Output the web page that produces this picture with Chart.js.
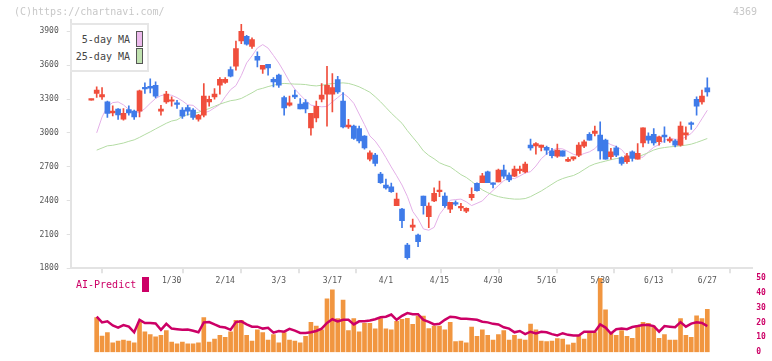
<!DOCTYPE html>
<html><head><meta charset="utf-8">
<script src="https://cdn.jsdelivr.net/npm/chart.js@4.4.1/dist/chart.umd.min.js"></script>
<style>
html,body{margin:0;padding:0;background:#fff;}
#wrap{position:relative;width:772px;height:361px;overflow:hidden;font-family:'DejaVu Sans Mono',monospace;}
canvas{position:absolute;left:0;top:0;width:772px;height:361px;}
.t{position:absolute;white-space:pre;font-size:10px;line-height:12px;}
</style></head><body>
<div id="wrap">
<canvas id="vol" width="772" height="361"></canvas>
<canvas id="price" width="772" height="361"></canvas>
<div class="t" style="left:14px;top:6px;color:#c8c8c8">(C)https://chartnavi.com/</div>
<div class="t" style="left:733px;top:6px;color:#c8c8c8">4369</div>
<div style="position:absolute;left:70px;top:23px;width:79px;height:49px;box-sizing:border-box;border:2px solid #e6e6e6;background:#fff"></div>
<div class="t" style="right:642px;top:34px;color:#444">5-day MA</div>
<div style="position:absolute;left:136px;top:31px;width:7px;height:16px;box-sizing:border-box;border:1px solid #555;background:#ecbaec"></div>
<div class="t" style="right:642px;top:51px;color:#444">25-day MA</div>
<div style="position:absolute;left:136px;top:48px;width:7px;height:16px;box-sizing:border-box;border:1px solid #555;background:#c0e2b0"></div>
<div class="t" style="left:76px;top:279px;color:#cc0066">AI-Predict</div>
<div style="position:absolute;left:142px;top:277px;width:7px;height:15px;background:#cc0066"></div>
</div>
<script>
const dates = ['1/8','1/9','1/10','1/14','1/15','1/16','1/17','1/20','1/21','1/22','1/23','1/24','1/27','1/28','1/29','1/30','1/31',
'2/3','2/4','2/5','2/6','2/7','2/10','2/12','2/13','2/14','2/17','2/18','2/19','2/20','2/21','2/25','2/26','2/27','2/28',
'3/3','3/4','3/5','3/6','3/7','3/10','3/11','3/12','3/13','3/14','3/17','3/18','3/19','3/21','3/24','3/25','3/26','3/27','3/28','3/31',
'4/1','4/2','4/3','4/4','4/7','4/8','4/9','4/10','4/11','4/14','4/15','4/16','4/17','4/18','4/21','4/22','4/23','4/24','4/25','4/28','4/30',
'5/1','5/2','5/7','5/8','5/9','5/12','5/13','5/14','5/15','5/16','5/19','5/20','5/21','5/22','5/23','5/26','5/27','5/28','5/29','5/30',
'6/2','6/3','6/4','6/5','6/6','6/9','6/10','6/11','6/12','6/13','6/16','6/17','6/18','6/19','6/20','6/23','6/24','6/25','6/26','6/27'];
const tickDates = ['1/30','2/14','3/3','3/17','4/1','4/15','4/30','5/16','5/30','6/13','6/27'];
const priceTicks = [1800,2100,2400,2700,3000,3300,3600,3900];
const volTicks = [0,10,20,30,40,50];

const open = [3290,3349,3319,3274,3177,3210,3121,3207,3192,3192,3402,3413,3422,3192,3274,3280,3256,3201,3225,3201,
3121,3157,3274,3319,3422,3446,3561,3590,3814,3856,3767,3679,3564,3608,3475,3511,3313,3245,3334,3254,
3269,3044,3133,3298,3343,3343,3473,3281,3053,3059,3039,2971,2767,2803,2635,2537,2522,2354,2324,2006,
2165,2094,2440,2257,2398,2478,2440,2325,2381,2336,2307,2425,2552,2558,2655,2558,2566,2670,2626,2617,
2664,2655,2891,2885,2871,2871,2841,2794,2841,2750,2770,2803,2882,2988,2995,2980,2935,2788,2868,2782,
2744,2832,2767,2912,2971,2988,2921,2980,2929,2929,2891,2982,3089,3298,3274,3399];
const high = [3290,3407,3402,3281,3239,3216,3216,3239,3201,3378,3443,3478,3452,3243,3369,3319,3289,3225,3245,3216,
3165,3437,3325,3392,3490,3490,3584,3814,3962,3865,3842,3717,3599,3608,3490,3520,3325,3325,3378,3304,
3296,3172,3281,3437,3590,3525,3502,3358,3121,3068,3059,2975,2841,2818,2650,2590,2555,2466,2331,2021,
2236,2103,2440,2381,2513,2573,2469,2384,2398,2375,2335,2513,2558,2641,2661,2558,2679,2714,2646,2705,
2705,2741,2944,2915,2891,2882,2862,2900,2841,2782,2788,2915,2935,3003,3059,3097,2944,2862,2882,2788,
2818,2841,2906,3044,3000,3039,2971,3053,2962,2941,3097,3053,3097,3319,3378,3487];
const low = [3290,3313,3296,3136,3151,3119,3112,3157,3119,3142,3349,3354,3310,3157,3260,3236,3216,3128,3157,3119,
3104,3142,3236,3298,3343,3437,3496,3555,3791,3776,3749,3584,3526,3511,3407,3402,3157,3236,3304,3213,
3177,2980,3097,3274,3060,3186,3349,3044,3039,2942,2912,2856,2752,2708,2552,2502,2473,2354,2159,1882,
2133,1991,2280,2159,2390,2434,2340,2292,2354,2310,2292,2404,2484,2558,2558,2513,2566,2597,2567,2611,
2641,2646,2847,2811,2841,2809,2779,2782,2794,2744,2755,2788,2868,2935,2973,2767,2767,2767,2788,2714,
2729,2750,2767,2876,2906,2891,2891,2915,2915,2876,2882,2941,3030,3157,3254,3325];
const close = [3290,3378,3340,3172,3192,3159,3172,3177,3142,3372,3390,3396,3325,3210,3343,3285,3252,3148,3192,3136,
3157,3325,3298,3343,3475,3475,3502,3747,3900,3785,3826,3644,3599,3576,3452,3422,3221,3266,3319,3213,
3213,3172,3236,3334,3422,3402,3363,3053,3068,2950,2929,2867,2823,2729,2558,2513,2478,2413,2221,1894,
2183,2035,2354,2351,2464,2493,2354,2384,2369,2343,2331,2455,2487,2620,2558,2543,2670,2617,2582,2679,
2679,2723,2867,2906,2891,2847,2797,2847,2794,2765,2788,2891,2921,2935,3015,2841,2767,2832,2803,2729,
2797,2773,2818,3044,2935,2912,2965,2965,2944,2891,3059,3000,3074,3236,3325,3363];
const ma5 = [null,3000,3140,3235,3268,3274,3248,3207,3178,3180,3215,3262,3305,3330,3340,3333,3312,3283,3248,3244,
3203,3177,3192,3222,3252,3320,3383,3419,3508,3620,3682,3752,3782,3751,3686,3619,3539,3454,3387,3336,
3288,3246,3237,3231,3234,3275,3313,3351,3315,3262,3167,3073,2973,2927,2860,2781,2698,2620,2538,2437,
2304,2238,2149,2137,2163,2277,2339,2403,2409,2413,2389,2356,2376,2397,2447,2490,2533,2576,2602,2594,
2618,2645,2656,2706,2771,2813,2847,2862,2858,2835,2810,2798,2817,2832,2860,2910,2921,2896,2878,2852,
2794,2786,2787,2784,2832,2873,2896,2935,2950,2944,2940,2965,2995,3050,3125,3200];
const ma25 = [null,2847,2866,2885,2890,2900,2910,2925,2938,2960,2985,3009,3035,3060,3085,3105,3115,3145,3162,3172,
3182,3200,3215,3235,3255,3270,3285,3292,3305,3330,3355,3383,3395,3410,3422,3433,3438,3435,3432,3431,
3428,3420,3416,3422,3430,3437,3440,3443,3438,3425,3408,3385,3360,3320,3275,3225,3175,3130,3085,3020,
2962,2905,2840,2800,2770,2735,2715,2699,2665,2630,2605,2570,2530,2495,2470,2450,2435,2425,2418,2413,
2413,2418,2435,2460,2485,2515,2545,2575,2595,2610,2622,2645,2675,2705,2725,2738,2750,2762,2772,2778,
2782,2785,2788,2805,2825,2848,2862,2870,2876,2880,2886,2891,2900,2915,2932,2950];
const volume = [null,23.3,10.9,13.2,6.3,7.5,8.2,7.5,6.3,20.1,13.8,11.9,10.3,11.3,14.5,6.9,5.7,6.9,5.7,5.7,
6.3,23.3,6.9,8.8,11.3,10.1,13.8,21.4,21.4,11.3,7.5,15.1,13.2,8.2,11.9,6.3,13.2,8.2,7.5,6.3,
10.7,20.1,17.6,15.1,35.9,42.1,22.6,35.2,14.5,22.6,13.8,19.5,19.5,15.7,22.6,15.7,15.1,20.8,22.2,22.8,
18.7,24.3,24.3,15.9,17.6,17.6,15.1,20.1,7.1,7.5,6.3,17.0,10.7,15.1,11.3,8.2,11.9,14.5,8.2,11.3,
8.8,8.2,18.9,15.1,7.5,7.1,7.5,9.2,8.8,5.0,6.1,11.3,8.8,13.2,13.2,49.7,28.5,13.2,11.3,14.5,
10.7,9.4,17.0,20.1,19.5,17.6,9.4,11.9,8.2,8.2,22.6,11.3,10.1,24.5,22.6,28.9];
const aiPredict = [null,23.9,20.1,20.8,18.0,16.6,18.3,17.2,13.4,21.8,19.7,19.7,19.3,15.1,19.1,15.9,15.5,15.1,15.3,14.5,
13.4,20.1,20.3,18.7,17.2,16.6,15.1,20.3,20.8,18.7,17.2,17.2,15.9,16.4,13.2,14.3,13.8,15.7,14.5,13.0,
13.0,13.4,14.3,15.9,19.7,22.2,20.8,21.8,21.8,18.7,20.8,20.8,21.4,22.2,23.5,23.9,25.4,21.8,24.5,26.4,
25.6,25.6,21.8,20.5,18.7,19.1,21.8,23.9,23.5,22.6,22.6,22.2,21.8,20.5,20.1,19.1,18.7,16.8,15.9,13.4,
14.3,12.2,13.8,12.6,13.8,13.4,12.2,11.3,12.8,11.7,11.3,11.3,13.8,13.8,13.8,18.7,16.6,12.6,15.5,15.9,
15.5,17.0,17.6,18.3,18.3,17.6,13.8,17.6,17.2,16.8,20.3,17.2,19.3,20.1,19.7,17.6];

Chart.defaults.font.family = "'DejaVu Sans Mono', monospace";
const X_MIN = -3.85, X_MAX = 123.4;
const UP = '#f04e3c', DOWN = '#3f7be9';
const colors = close.map((c, i) => c >= open[i] ? UP : DOWN);
const pts = (arr) => arr.map((v, i) => ({x: i, y: v}));

new Chart(document.getElementById('price'), {
  data: {
    datasets: [
      {type: 'line', data: pts(ma5), borderColor: '#e4b0e8', borderWidth: 1, pointRadius: 0, tension: 0, order: 4},
      {type: 'line', data: pts(ma25), borderColor: '#b4dca4', borderWidth: 1, pointRadius: 0, tension: 0, order: 3},
      {type: 'bar', data: dates.map((d, i) => ({x: i, y: [low[i], high[i]]})), backgroundColor: colors,
       barThickness: 1, grouped: false, minBarLength: 1, order: 2},
      {type: 'bar', data: dates.map((d, i) => ({x: i, y: [open[i], close[i]]})), backgroundColor: colors,
       barThickness: 5, grouped: false, minBarLength: 1.5, order: 1}
    ]
  },
  options: {
    responsive: false, animation: false, devicePixelRatio: 1,
    layout: {padding: {top: 20, right: 19.7, bottom: 67.7, left: 0}},
    plugins: {legend: {display: false}, tooltip: {enabled: false}},
    scales: {
      x: {
        type: 'linear', min: X_MIN, max: X_MAX, offset: false,
        afterBuildTicks(scale) {
          const t = [];
          for (let k = 0; k <= 11; k++) t.push({value: X_MIN + k * (X_MAX - X_MIN) / 11});
          tickDates.forEach(d => t.push({value: dates.indexOf(d)}));
          t.sort((a, b) => a.value - b.value);
          scale.ticks = t;
        },
        afterFit(scale) { scale.height = 25; },
        ticks: {
          autoSkip: false, maxRotation: 0, minRotation: 0, padding: 3, color: '#555',
          font: {size: 8},
          callback: (v) => (Number.isInteger(v) && tickDates.includes(dates[v])) ? dates[v] : ''
        },
        grid: {
          drawOnChartArea: false, drawTicks: true, tickLength: 5, lineWidth: 2,
          color: (ctx) => (ctx.tick && Number.isInteger(ctx.tick.value)) ? 'rgba(0,0,0,0)' : '#e3e3e3'
        },
        border: {display: true, color: '#e3e3e3', width: 2}
      },
      y: {
        min: 1800, max: 4000,
        afterBuildTicks(scale) { scale.ticks = priceTicks.map(v => ({value: v})); },
        afterFit(scale) { scale.width = 70.7; },
        ticks: {padding: 8, color: '#555', font: {size: 8}, callback: (v) => String(v)},
        grid: {drawOnChartArea: false, drawTicks: true, tickLength: 4, color: '#e0e0e0', lineWidth: 1},
        border: {display: true, color: '#e3e3e3', width: 2}
      }
    }
  }
});

new Chart(document.getElementById('vol'), {
  data: {
    datasets: [
      {type: 'line', data: pts(aiPredict), borderColor: '#cc0066', borderWidth: 2.5, pointRadius: 0, tension: 0,
       yAxisID: 'yv', order: 1},
      {type: 'bar', data: pts(volume), backgroundColor: '#f19640', barThickness: 4, yAxisID: 'yv', order: 2}
    ]
  },
  options: {
    responsive: false, animation: false, devicePixelRatio: 1,
    layout: {padding: {top: 278, right: 0, bottom: 3, left: 70.7}},
    plugins: {legend: {display: false}, tooltip: {enabled: false}},
    scales: {
      x: {type: 'linear', min: X_MIN, max: X_MAX, offset: false, display: false},
      yv: {
        position: 'right', min: 0, max: 50,
        afterBuildTicks(scale) { scale.ticks = volTicks.map(v => ({value: v})); },
        afterFit(scale) { scale.width = 19.7; },
        ticks: {padding: 4, color: '#cc0066', font: {size: 8, weight: 'bold'}, callback: (v) => String(v)},
        grid: {display: false, drawTicks: false},
        border: {display: false}
      }
    }
  }
});
</script>
</body></html>
